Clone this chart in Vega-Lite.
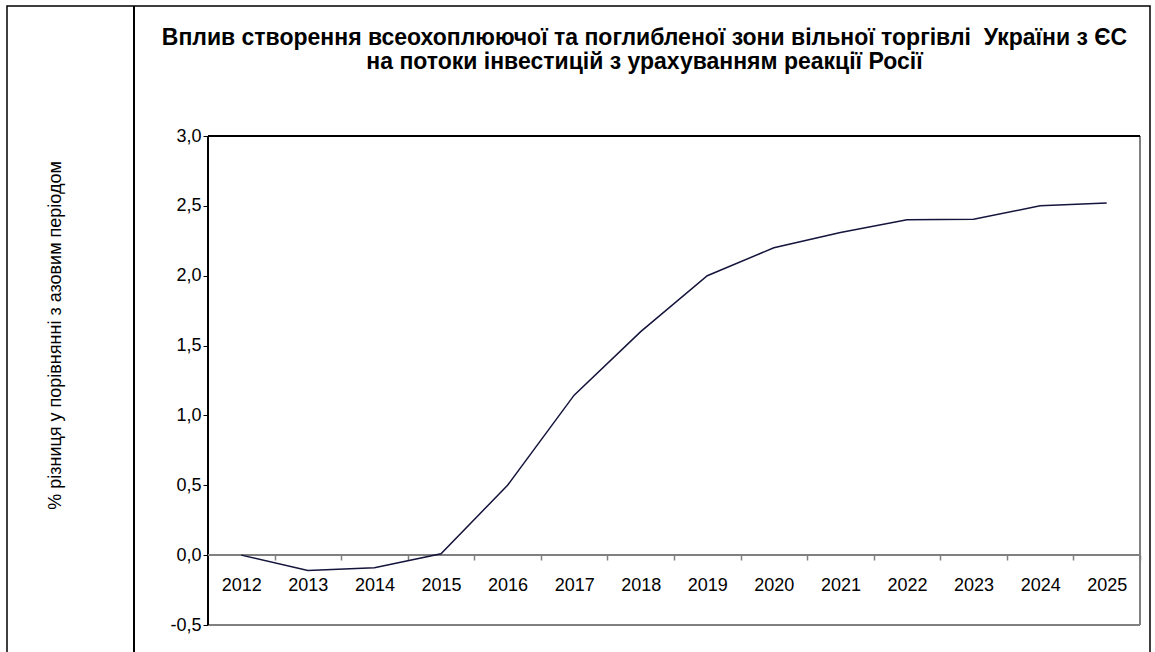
{
  "$schema": "https://vega.github.io/schema/vega-lite/v6.json",
  "width": 1143,
  "height": 654,
  "autosize": {"type": "none"},
  "padding": {"left": 7, "top": 6, "right": 5, "bottom": -8},
  "background": "white",
  "config": {
    "font": "Liberation Sans",
    "view": {"stroke": "black", "strokeWidth": 1.5},
    "axis": {"grid": false, "labelColor": "black", "labelFont": "Liberation Sans", "titleFont": "Liberation Sans"}
  },
  "title": {
    "text": ["Вплив створення всеохоплюючої та поглибленої зони вільної торгівлі \u00a0України з ЄС", "на потоки інвестицій з урахуванням реакції Росії"],
    "anchor": "middle",
    "fontSize": 23,
    "fontWeight": "bold",
    "font": "Liberation Sans",
    "color": "black",
    "baseline": "top",
    "offset": 0,
    "dx": 66,
    "dy": 69,
    "lineHeight": 24
  },
  "data": {
    "values": [
      {"year": 2012, "value": 0.0},
      {"year": 2013, "value": -0.11},
      {"year": 2014, "value": -0.09},
      {"year": 2015, "value": 0.01},
      {"year": 2016, "value": 0.5},
      {"year": 2017, "value": 1.145},
      {"year": 2018, "value": 1.6},
      {"year": 2019, "value": 2.0},
      {"year": 2020, "value": 2.2},
      {"year": 2021, "value": 2.31},
      {"year": 2022, "value": 2.4},
      {"year": 2023, "value": 2.405},
      {"year": 2024, "value": 2.5},
      {"year": 2025, "value": 2.52}
    ]
  },
  "layer": [
    {
      "mark": {"type": "rect", "fill": null, "stroke": "#808080", "strokeWidth": 1},
      "encoding": {
        "x": {"datum": 2011.5, "type": "quantitative"},
        "x2": {"datum": 2025.5},
        "y": {"datum": -0.5, "type": "quantitative"},
        "y2": {"datum": 3}
      }
    },
    {
      "mark": {"type": "rule", "color": "black", "strokeWidth": 1},
      "encoding": {
        "x": {"datum": 2011.5, "type": "quantitative"},
        "x2": {"datum": 2025.5},
        "y": {"datum": 3, "type": "quantitative"}
      }
    },
    {
      "mark": {"type": "rule", "color": "black", "strokeWidth": 1.5},
      "encoding": {
        "x": {"datum": 2011.5, "type": "quantitative"},
        "y": {"datum": -0.5, "type": "quantitative"},
        "y2": {"datum": 3}
      }
    },
    {
      "mark": {"type": "rule", "color": "#808080", "strokeWidth": 1.5},
      "encoding": {
        "x": {"datum": 2011.5, "type": "quantitative"},
        "x2": {"datum": 2025.5},
        "y": {"datum": 0, "type": "quantitative"}
      }
    },
    {
      "mark": {"type": "rule", "color": "black", "strokeWidth": 1.5},
      "encoding": {
        "x": {"datum": 2010.3884, "type": "quantitative"},
        "y": {"datum": -0.75051, "type": "quantitative"},
        "y2": {"datum": 3.93047}
      }
    },
    {
      "mark": {"type": "line", "color": "#14143c", "strokeWidth": 1.5},
      "encoding": {
        "x": {
          "field": "year",
          "type": "quantitative",
          "scale": {"domain": [2008.4807, 2025.6502], "nice": false, "zero": false},
          "axis": {
            "orient": "bottom",
            "offset": -105,
            "values": [2012, 2013, 2014, 2015, 2016, 2017, 2018, 2019, 2020, 2021, 2022, 2023, 2024, 2025],
            "format": "d",
            "domain": false,
            "ticks": true,
            "tickSize": 5,
            "tickColor": "#808080",
            "tickWidth": 1.5,
            "tickOffset": 33.29,
            "labelOffset": -33.29,
            "labelFontSize": 18,
            "labelPadding": 16,
            "title": null
          }
        },
        "y": {
          "field": "value",
          "type": "quantitative",
          "scale": {"domain": [-0.75051, 3.93047], "nice": false, "zero": false},
          "axis": {
            "orient": "left",
            "offset": -201,
            "values": [-0.5, 0, 0.5, 1, 1.5, 2, 2.5, 3],
            "labelExpr": "replace(replace(format(datum.value, '.1f'), '.', ','), '−', '-')",
            "domain": false,
            "tickSize": 5,
            "tickColor": "black",
            "tickWidth": 1,
            "labelFontSize": 18,
            "labelPadding": 2,
            "title": "% різниця у порівнянні з азовим періодом",
            "titleFontSize": 18,
            "titleFontWeight": "normal",
            "titleColor": "black",
            "titleX": -148,
            "titleY": 329,
            "titleAngle": 270,
            "titleAlign": "center",
            "titleBaseline": "alphabetic"
          }
        }
      }
    }
  ]
}
